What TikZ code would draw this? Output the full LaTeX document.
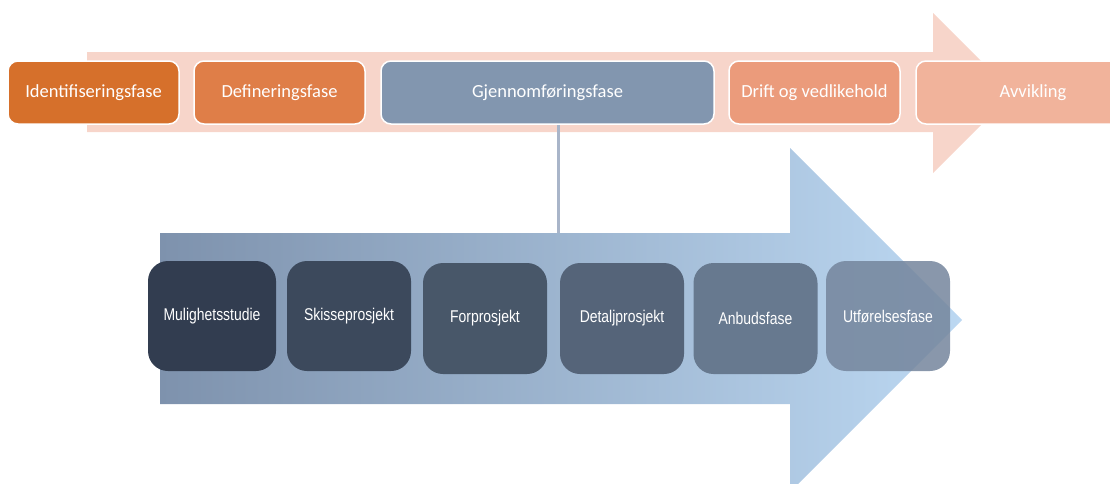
\documentclass[tikz,border=0pt]{standalone}
\usepackage{fontspec}
\newfontfamily\topfont{Carlito}
\newfontfamily\lowfont[FakeStretch=0.82]{Liberation Sans}
\definecolor{arrowpink}{HTML}{F7D5CA}
\definecolor{bluedark}{HTML}{7E92AD}
\definecolor{bluelight}{HTML}{BCD8F2}
\definecolor{fasea}{HTML}{D6702B}
\definecolor{faseb}{HTML}{DF7E48}
\definecolor{fasec}{HTML}{8296AF}
\definecolor{fased}{HTML}{EB9B7B}
\definecolor{fasee}{HTML}{F1B39B}
\definecolor{linkgrey}{HTML}{A9B5C9}
\definecolor{trinna}{HTML}{323D50}
\definecolor{trinnb}{HTML}{3C495C}
\definecolor{trinnc}{HTML}{485769}
\definecolor{trinnd}{HTML}{556479}
\definecolor{trinne}{HTML}{67798F}
\definecolor{trinnf}{HTML}{74859C}
\tikzset{
  fase/.style={draw=white, line width=1.5pt, rounded corners=10pt,
    minimum height=63pt, text=white, font=\topfont\fontsize{18.5}{20}\selectfont},
  trinn/.style={rounded corners=20pt, minimum width=124pt, minimum height=110pt,
    text=white, font=\lowfont\fontsize{17}{19}\selectfont},
  link/.style={linkgrey, line width=3pt}
}
\begin{document}
\begin{tikzpicture}[x=1pt, y=-1pt]
            \useasboundingbox (0,0) rectangle (1110,483);
            \fill[arrowpink] (87,52) -- (933,52) -- (933,13) -- (1013,93)
            -- (933,173) -- (933,132) -- (87,132) -- cycle;
            \shade[left color=bluedark, right color=bluelight]
            (160,233) -- (790,233) -- (790,148) -- (962,320)
            -- (790,492) -- (790,404) -- (160,404) -- cycle;
            \node[fase, fill=fasea, minimum width=171pt] (ident) at (93.5,92.5) {Identifiseringsfase};
            \node[fase, fill=faseb, minimum width=171pt] (defin) at (279.5,92.5) {Defineringsfase};
            \node[fase, fill=fasec, minimum width=333pt] (gjen) at (547.5,92.5) {Gjennomføringsfase};
            \node[fase, fill=fased, minimum width=171pt] (drift) at (814.5,92.5) {Drift og vedlikehold};
            \node[fase, fill=fasee, minimum width=234pt] (avvik) at (1033,92.5) {Avvikling};
            \coordinate (linktop) at (558,125);
            \coordinate (linkbot) at (558,233);
            \draw[link] (linktop) -- (linkbot);
            \node[trinn, fill=trinna, minimum width=128pt] (mulig) at (212,316) {Mulighetsstudie};
            \node[trinn, fill=trinnb] (skisse) at (349,316) {Skisseprosjekt};
            \node[trinn, fill=trinnc, minimum height=111pt] (forpro) at (485,318.5) {Forprosjekt};
            \node[trinn, fill=trinnd, minimum height=111pt] (detalj) at (622,318.5) {Detaljprosjekt};
            \node[trinn, fill=trinne, minimum height=111pt] (anbud) at (755.5,318.5) {Anbudsfase};
            \node[trinn, fill=trinnf, fill opacity=0.85, text opacity=1] (utfor) at (888,316) {Utførelsesfase};
        \end{tikzpicture}
\end{document}
